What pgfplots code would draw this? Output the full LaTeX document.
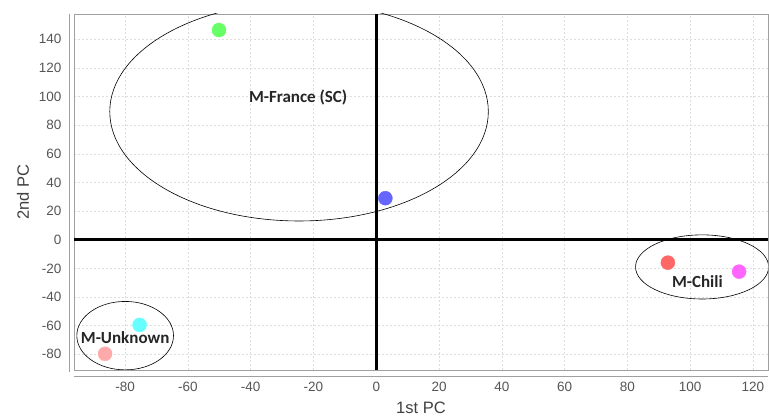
\documentclass[border=0pt]{standalone}
\usepackage{fontspec}
\setmainfont{Liberation Sans}
\newfontfamily\carlito{Carlito}
\usepackage{pgfplots}
\pgfplotsset{compat=1.18}
\definecolor{tickgray}{HTML}{555555}
\definecolor{framegray}{HTML}{A0A0A0}
\definecolor{gridgray}{HTML}{DDDDDD}
\definecolor{cgreen}{HTML}{66FF66}
\definecolor{cblue}{HTML}{6666FF}
\definecolor{ccyan}{HTML}{66FFFF}
\definecolor{cpink}{HTML}{FFAAAA}
\definecolor{cred}{HTML}{FF6666}
\definecolor{cmagenta}{HTML}{FF66FF}
\begin{document}
\begin{tikzpicture}
\begin{axis}[
  name=ax,
  scale only axis,
  width=694pt, height=356pt,
  xmin=-96.3, xmax=124.8,
  ymin=-91, ymax=157.7,
  xtick={-80,-60,-40,-20,0,20,40,60,80,100,120},
  xticklabels={-80,-60,-40,-20,0,20,40,60,80,100,120},
  ytick={-80,-60,-40,-20,0,20,40,60,80,100,120,140},
  yticklabels={-80,-60,-40,-20,0,20,40,60,80,100,120,140},
  major tick length=0pt,
  tick style={draw=none},
  ticklabel style={font=\fontsize{13.5}{14}\selectfont, text=tickgray},
  xticklabel style={yshift=-9pt},
  yticklabel style={xshift=-9pt},
  grid=major,
  major grid style={draw=gridgray, dash pattern=on 2pt off 2pt, line width=0.5pt},
  axis line style={draw=framegray, line width=0.8pt},
  xlabel={1st PC},
  ylabel={2nd PC},
  label style={font=\fontsize{16.5}{17}\selectfont, text=black!75},
  xlabel style={at={(axis description cs:0.5,-0.105)}, anchor=center},
  ylabel style={at={(axis description cs:-0.0735,0.5)}, anchor=center},
  clip=true,
]
% zero lines
\addplot[black, line width=2.6pt, forget plot] coordinates {(-96.3,0) (124.8,0)};
\addplot[black, line width=2.6pt, forget plot] coordinates {(0,-91) (0,157.7)};
% ellipses
\draw[black, line width=0.6pt] (axis cs:-24.6,89.5) ellipse [x radius=60.3, y radius=76.4];
\draw[black, line width=0.6pt] (axis cs:-80,-67) ellipse [x radius=15.4, y radius=23.9];
\draw[black, line width=0.6pt] (axis cs:103.8,-19) ellipse [x radius=21.2, y radius=22.4];
% points
\addplot[only marks, mark=*, mark size=7pt, color=cgreen] coordinates {(-50.1,146.5)};
\addplot[only marks, mark=*, mark size=7pt, color=cblue] coordinates {(2.9,29)};
\addplot[only marks, mark=*, mark size=7pt, color=ccyan] coordinates {(-75.4,-59.5)};
\addplot[only marks, mark=*, mark size=7pt, color=cpink] coordinates {(-86.4,-79.7)};
\addplot[only marks, mark=*, mark size=7pt, color=cred] coordinates {(92.9,-16)};
\addplot[only marks, mark=*, mark size=7pt, color=cmagenta] coordinates {(115.6,-22.3)};
% labels
\node[font=\carlito\bfseries\fontsize{17}{18}\selectfont, text=black!85] at (axis cs:-24.9,99.7) {M-France (SC)};
\node[font=\carlito\bfseries\fontsize{17}{18}\selectfont, text=black!85] at (axis cs:-80,-68.5) {M-Unknown};
\node[font=\carlito\bfseries\fontsize{17}{18}\selectfont, text=black!85] at (axis cs:102.3,-29.3) {M-Chili};
\end{axis}
% offset axis lines
\draw[framegray, line width=0.8pt] ([xshift=-5pt]ax.north west) -- ([xshift=-5pt,yshift=-2pt]ax.south west);
\draw[framegray, line width=0.8pt] ([yshift=-6pt]ax.south west) -- ([yshift=-6pt]ax.south east);
\pgfresetboundingbox
\path ([xshift=-74pt,yshift=-47pt]ax.south west) rectangle ([xshift=1pt,yshift=14pt]ax.north east);
\end{tikzpicture}
\end{document}
